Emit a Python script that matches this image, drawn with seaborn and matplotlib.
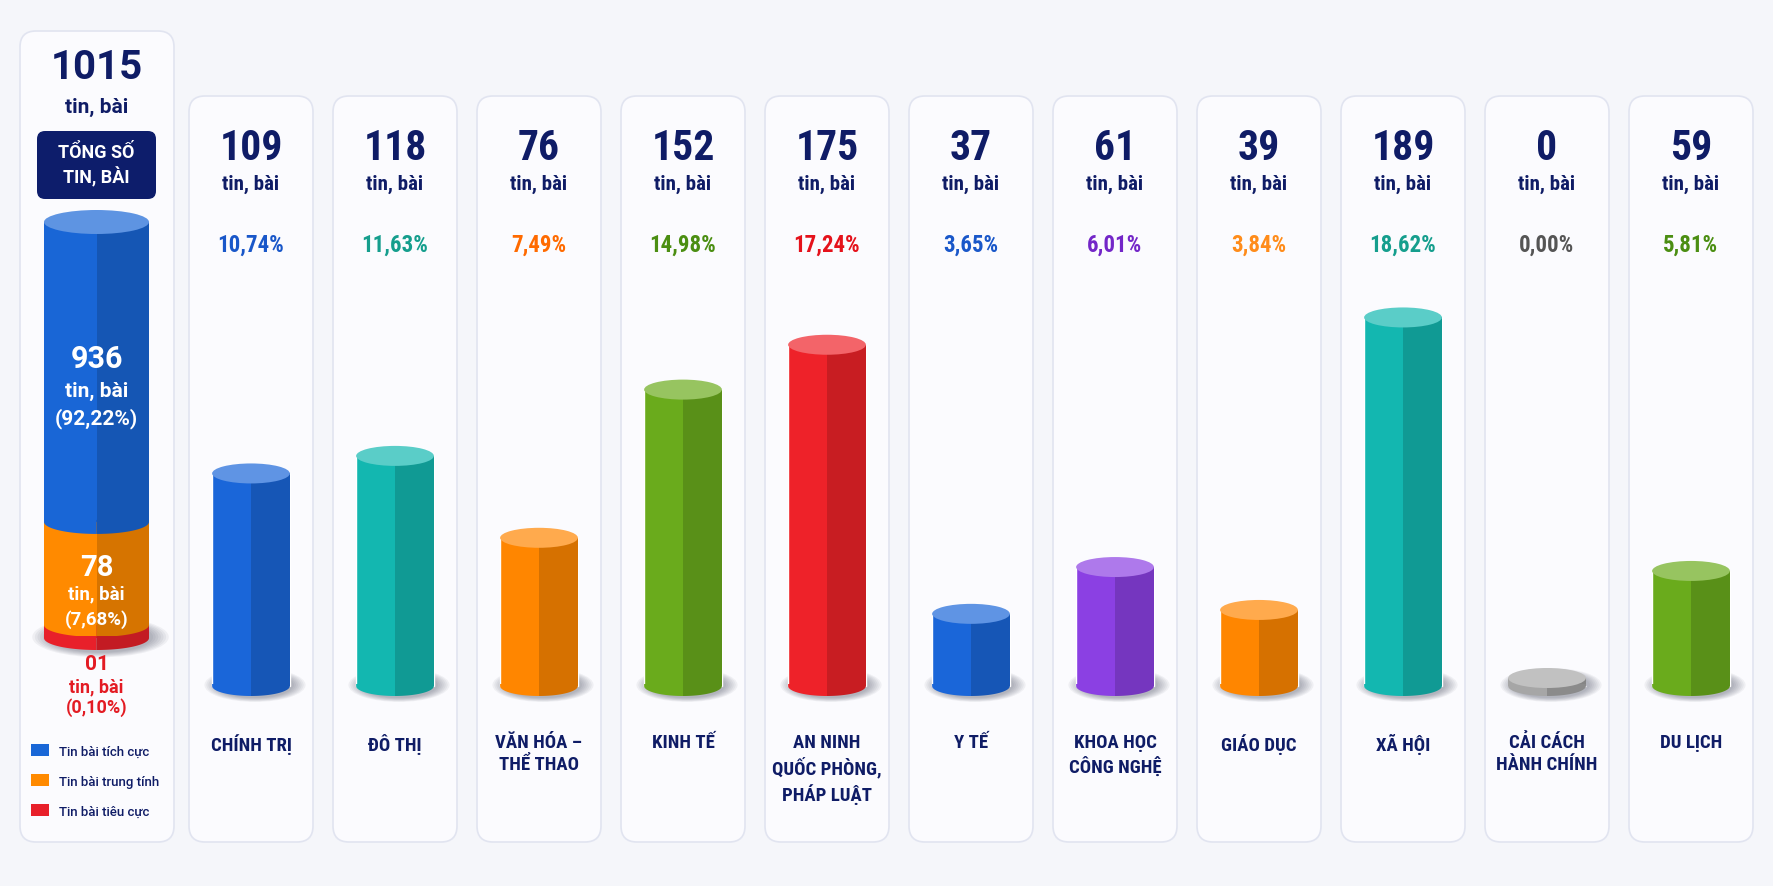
import numpy as np
import pandas as pd
import matplotlib
matplotlib.use("Agg")
import matplotlib.pyplot as plt
import seaborn as sns
from matplotlib.patches import Ellipse, Polygon, FancyBboxPatch, Rectangle
from matplotlib.transforms import IdentityTransform
from matplotlib.colors import to_rgb

# ---- data -------------------------------------------------------------
categories = ["CHÍNH TRỊ", "ĐÔ THỊ", "VĂN HÓA –\nTHỂ THAO", "KINH TẾ",
              "AN NINH\nQUỐC PHÒNG,\nPHÁP LUẬT", "Y TẾ", "KHOA HỌC\nCÔNG NGHỆ",
              "GIÁO DỤC", "XÃ HỘI", "CẢI CÁCH\nHÀNH CHÍNH", "DU LỊCH"]
counts = [109, 118, 76, 152, 175, 37, 61, 39, 189, 0, 59]
bar_colors = ["#1a66d9", "#13b7b0", "#ff8600", "#6aab1c", "#ee2229", "#1a66d9",
              "#8b40e3", "#ff8600", "#13b7b0", "#a6a6a6", "#6aab1c"]
pct_colors = ["#1957c9", "#159e8d", "#ff6a00", "#4b8e12", "#e5121b", "#1957c9",
              "#7326c8", "#ff8c1a", "#159e8d", "#555555", "#4b8e12"]

total_count = 1015
sentiment_labels = ["Tin bài tích cực", "Tin bài trung tính", "Tin bài tiêu cực"]
sentiment_counts = [936, 78, 1]
sentiment_colors = ["#1966d6", "#ff8a00", "#e8202a"]
unit_label = "tin, bài"
total_title = "TỔNG SỐ\nTIN, BÀI"

# ---- layout / style ---------------------------------------------------
W, H = 1774, 887
NAVY = "#0f1c66"
BG = "#f5f6fa"
PANEL = "#fbfbfe"
PANEL_EDGE = "#e1e4f0"
FONT = ["Roboto Condensed", "Liberation Sans Narrow", "Roboto", "DejaVu Sans"]
WIDE = ["Roboto", "DejaVu Sans"]
ident = IdentityTransform()


def fmt_pct(v):
    return f"{v / total_count * 100:.2f}%".replace(".", ",")


def lighten(c, f):
    rgb = np.array(to_rgb(c))
    return tuple(rgb + (1 - rgb) * f)


def darken(c, f):
    return tuple(np.array(to_rgb(c)) * (1 - f))


def ellipse_pts(cx, cy, w, h, t0, t1, n=40):
    t = np.linspace(t0, t1, n)
    return np.column_stack([cx + w / 2 * np.cos(t), cy + h / 2 * np.sin(t)])


def add_px(ax, patch):
    patch.set_clip_on(False)
    ax.add_patch(patch)


def cylinder_rim(ax, cx, by, color, w_px, e_px, lip=2):
    """lower half of the cylinder base, darker on the right; overlaps body by `lip` px"""
    left = np.vstack([[cx - w_px / 2, by + lip],
                      ellipse_pts(cx, by, w_px, e_px, np.pi, 1.5 * np.pi),
                      [cx, by + lip]])
    right = np.vstack([[cx, by + lip],
                       ellipse_pts(cx, by, w_px, e_px, 1.5 * np.pi, 2 * np.pi),
                       [cx + w_px / 2, by + lip]])
    add_px(ax, Polygon(left, closed=True, transform=ident, fc=color, lw=0, zorder=4))
    add_px(ax, Polygon(right, closed=True, transform=ident, fc=darken(color, 0.16),
                       lw=0, zorder=4))


def shadow(ax, cx, by, w_px, e_px):
    for k in range(7):
        s = 1.0 + 0.05 * k
        add_px(ax, Ellipse((cx + 4, by + 1), w_px * s, e_px * 1.3 * s, transform=ident,
                           fc="#30354a", alpha=0.06, lw=0, zorder=1))


def panel(ax, x0, top, w, bottom):
    add_px(ax, FancyBboxPatch((x0, H - bottom), w, bottom - top,
                              boxstyle="round,pad=0,rounding_size=16", transform=ident,
                              fc=PANEL, ec=PANEL_EDGE, lw=1.2, zorder=0))


def txt(ax, x, y, s, size, color=NAVY, weight="bold", family=FONT, **kw):
    ax.text(x, y, s, transform=ident, ha="center", va="center", fontsize=size,
            fontweight=weight, color=color, family=family, **kw)


sns.set_theme(style="white")
plt.rcParams["font.family"] = FONT

fig = plt.figure(figsize=(W / 100, H / 100), dpi=100)
fig.patch.set_facecolor(BG)

# ---- main category cylinders -----------------------------------------
ax = fig.add_axes([0, 0, 1, 1])
ax.patch.set_alpha(0)
df = pd.DataFrame({"category": categories, "count": counts})
BAR_W = 0.54
sns.barplot(data=df, x="category", y="count", hue="category", palette=bar_colors,
            saturation=1, legend=False, width=BAR_W, ax=ax, zorder=3)

SPACING = 144.0
X0 = 251.0
PX_PER_UNIT = 1.95
BASE = 200.0
ax.set_xlim(-X0 / SPACING, (W - X0) / SPACING)
ax.set_ylim(-BASE / PX_PER_UNIT, (H - BASE) / PX_PER_UNIT)
ax.axis("off")

# right-hand shading of every body
for i, (v, c) in enumerate(zip(counts, bar_colors)):
    ax.bar(i + BAR_W / 4, v, width=BAR_W / 2, color=darken(c, 0.16), lw=0, zorder=3.5)

W_PX = BAR_W * SPACING
E_PX = 20
DISK_PX = 8
for i, (v, c) in enumerate(zip(counts, bar_colors)):
    cx, by = ax.transData.transform((i, 0))
    _, ty = ax.transData.transform((i, v))
    panel(ax, cx - 62, 97, 124, 843)
    shadow(ax, cx, by, W_PX, E_PX)
    if v == 0:
        ty = by + DISK_PX
        add_px(ax, Rectangle((cx - W_PX / 2, by), W_PX / 2, DISK_PX, transform=ident,
                             fc=c, lw=0, zorder=3.5))
        add_px(ax, Rectangle((cx, by), W_PX / 2, DISK_PX, transform=ident,
                             fc=darken(c, 0.2), lw=0, zorder=3.5))
    cylinder_rim(ax, cx, by, c, W_PX, E_PX, lip=min(2, max(ty - by, 0)))
    add_px(ax, Ellipse((cx, ty), W_PX, E_PX, transform=ident,
                       fc=lighten(c, 0.3), lw=0, zorder=5))

    txt(ax, cx, H - 149, str(v), 30)
    txt(ax, cx, H - 184, unit_label, 15)
    txt(ax, cx, H - 245, fmt_pct(v), 16.5, color=pct_colors[i])
    ax.text(cx, H - 734, categories[i], transform=ident, ha="center", va="top",
            fontsize=13.5, fontweight="bold", color=NAVY, family=FONT,
            linespacing=1.3, multialignment="center")

# ---- left: total & sentiment stack -----------------------------------
panel(ax, 20, 32, 154, 843)
txt(ax, 97, H - 68, str(total_count), 29, family=WIDE)
txt(ax, 97, H - 107, unit_label, 15, family=WIDE)
add_px(ax, FancyBboxPatch((37, H - 200), 119, 68, boxstyle="round,pad=0,rounding_size=8",
                          transform=ident, fc="#0d1d6b", lw=0, zorder=1))
txt(ax, 96.5, H - 166, total_title, 13, color="white", linespacing=1.3, family=WIDE)

ax2 = fig.add_axes([44 / W, 248 / H, 105 / W, 416 / H])
ax2.patch.set_alpha(0)
ax2.set_yscale("function", functions=(np.sqrt, np.square))
bottoms = np.concatenate([[0], np.cumsum(sentiment_counts[::-1])[:-1]])[::-1]
handles = []
for v, b, c, lab in zip(sentiment_counts, bottoms, sentiment_colors, sentiment_labels):
    h = ax2.bar(0, v, bottom=b, width=1, color=c, lw=0, zorder=3, label=lab)
    ax2.bar(0.25, v, bottom=b, width=0.5, color=darken(c, 0.16), lw=0, zorder=3.5)
    handles.append(h)
ax2.set_xlim(-0.5, 0.5)
ax2.set_ylim(0, total_count)
ax2.axis("off")

L_W, L_E = 105, 24
cx2, p0 = ax2.transData.transform((0, 0))
shadow(ax2, cx2, p0, L_W, L_E)
for v, b, c in zip(sentiment_counts, bottoms, sentiment_colors):
    _, pb = ax2.transData.transform((0, b))
    cylinder_rim(ax2, cx2, pb, c, L_W, L_E)
_, ptop = ax2.transData.transform((0, total_count))
add_px(ax2, Ellipse((cx2, ptop), L_W, L_E, transform=ident,
                    fc=lighten(sentiment_colors[0], 0.3), lw=0, zorder=5))

label_sizes = [(22, 15), (21, 13.5), (15, 13)]
for k, (v, b) in enumerate(zip(sentiment_counts, bottoms)):
    _, pb = ax2.transData.transform((0, b))
    _, pt = ax2.transData.transform((0, b + v))
    big, small = label_sizes[k]
    if k < 2:
        mid = (pb + pt) / 2
        offs = (14, -18, -46) if k == 0 else (6, -20, -45)
        col = "white"
    else:
        mid = p0
        offs = (-26, -48, -69)
        col = "#e31b23"
    txt(ax2, cx2, mid + offs[0], f"{v:02d}", big, color=col, family=WIDE, zorder=6)
    txt(ax2, cx2, mid + offs[1], unit_label, small, color=col, family=WIDE, zorder=6)
    txt(ax2, cx2, mid + offs[2], "(" + fmt_pct(v) + ")", small, color=col,
        family=WIDE, zorder=6)

fig.legend(handles, sentiment_labels, loc="center left",
           bbox_to_anchor=(31 / W, 1 - 782 / H), frameon=False,
           prop={"family": WIDE, "size": 9.5, "weight": "medium"}, labelcolor=NAVY,
           handlelength=1.4, handleheight=1.0, handletextpad=0.7,
           labelspacing=1.25, borderpad=0, borderaxespad=0)

fig.savefig("out.png", dpi=100, facecolor=BG)
